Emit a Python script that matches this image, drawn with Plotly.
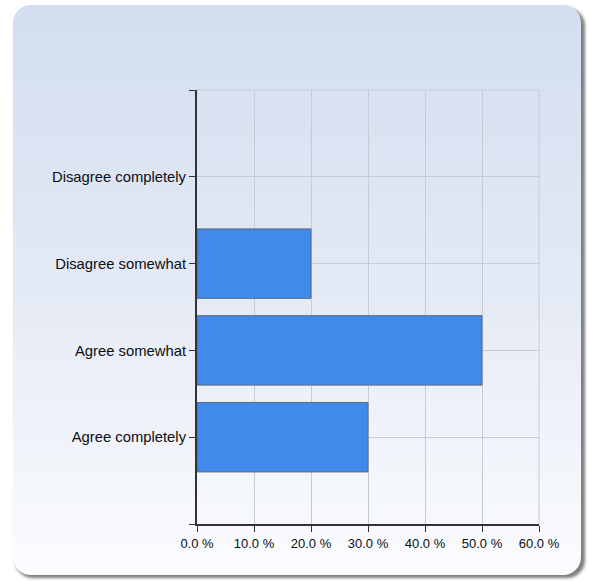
import base64
import plotly.graph_objects as go

# ---- data ----
categories = ["Disagree completely", "Disagree somewhat", "Agree somewhat", "Agree completely"]
percentages = [0, 20, 50, 30]
x_ticks = [0, 10, 20, 30, 40, 50, 60]
x_tick_labels = ["0.0 %", "10.0 %", "20.0 %", "30.0 %", "40.0 %", "50.0 %", "60.0 %"]

# ---- figure geometry ----
W, H = 589, 581
ML, MR, MT, MB = 197, 50, 90, 57
PW, PH = W - ML - MR, H - MT - MB

n = len(categories)
ypos = [n - i for i in range(n)]  # top-to-bottom order

svg = f"""<svg xmlns='http://www.w3.org/2000/svg' width='{W}' height='{H}' viewBox='0 0 {W} {H}'>
<defs>
<linearGradient id='g' x1='0' y1='0' x2='0' y2='1'>
<stop offset='0' stop-color='#d2def0'/>
<stop offset='0.5' stop-color='#e4eaf5'/>
<stop offset='1' stop-color='#fbfcfe'/>
</linearGradient>
<filter id='s' x='-5%' y='-5%' width='110%' height='110%'><feGaussianBlur stdDeviation='1.4'/></filter>
</defs>
<rect x='15' y='8' width='570' height='570' rx='18' ry='18' fill='#7f7f7f' filter='url(#s)'/>
<rect x='13' y='5' width='568' height='570' rx='18' ry='18' fill='url(#g)'/>
</svg>"""
src = "data:image/svg+xml;base64," + base64.b64encode(svg.encode()).decode()

fig = go.Figure()
fig.add_trace(go.Bar(
    y=ypos,
    x=percentages,
    orientation="h",
    width=0.8,
    marker=dict(color="#4189eb",
                line=dict(color="#5a6a82", width=[0 if v == 0 else 1 for v in percentages])),
    hoverinfo="skip",
))

grid = "#c6cbd4"
fig.update_layout(
    width=W, height=H,
    margin=dict(l=ML, r=MR, t=MT, b=MB, pad=0),
    paper_bgcolor="white",
    plot_bgcolor="rgba(0,0,0,0)",
    showlegend=False,
    font=dict(family="Liberation Sans, Arial, sans-serif", color="#0d0d14"),
    images=[dict(
        source=src, xref="paper", yref="paper",
        x=-ML / PW, y=(PH + MT) / PH, sizex=W / PW, sizey=H / PH,
        xanchor="left", yanchor="top", sizing="stretch", layer="below",
    )],
    shapes=[
        dict(type="line", xref="paper", yref="paper", x0=0, x1=1, y0=1, y1=1,
             line=dict(color=grid, width=1), layer="below"),
        dict(type="line", xref="paper", yref="paper", x0=1, x1=1, y0=0, y1=1,
             line=dict(color=grid, width=1), layer="below"),
    ],
    xaxis=dict(
        range=[0, 60], tickvals=x_ticks, ticktext=x_tick_labels,
        showgrid=True, gridcolor=grid, gridwidth=1,
        showline=True, linecolor="#333333", linewidth=2,
        ticks="outside", ticklen=6, tickcolor="#333333", tickwidth=1,
        tickfont=dict(size=13), zeroline=False, fixedrange=True,
    ),
    yaxis=dict(
        range=[0, n + 1], tickvals=[0] + ypos + [n + 1],
        ticktext=[""] + categories + [""],
        showgrid=True, gridcolor=grid, gridwidth=1,
        showline=True, linecolor="#333333", linewidth=2,
        ticks="outside", ticklen=6, tickcolor="#333333", tickwidth=1,
        tickfont=dict(size=14.8), zeroline=False, fixedrange=True,
    ),
)

fig.write_html(
    "out.html",
    config={"displayModeBar": False},
    post_script="document.body.style.margin='0';document.body.style.padding='0';document.body.style.overflow='hidden';",
)
